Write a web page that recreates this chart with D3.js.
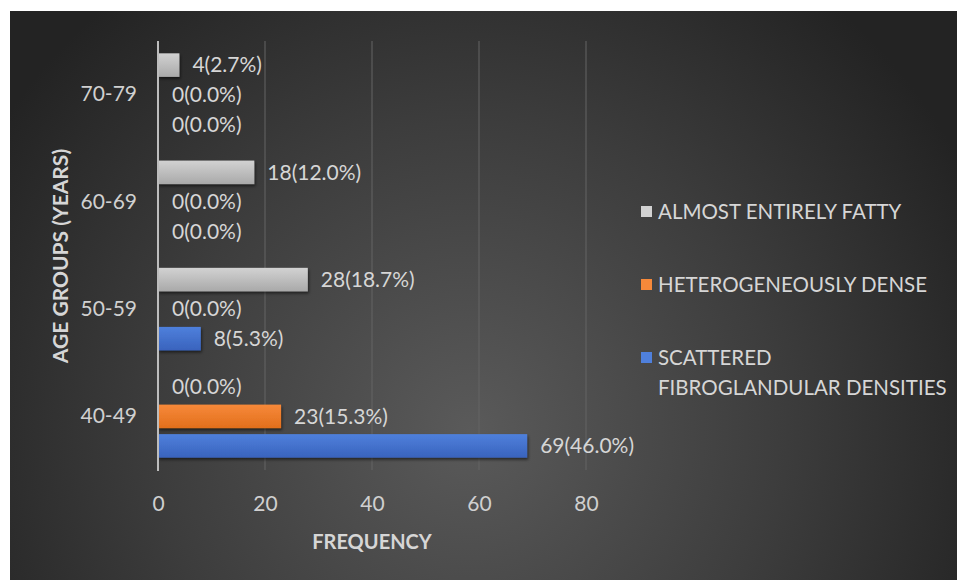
<!DOCTYPE html>
<html>
<head>
<meta charset="utf-8">
<script src="https://cdn.jsdelivr.net/npm/d3@7/dist/d3.min.js"></script>
<style>
  html, body { margin: 0; padding: 0; background: #ffffff; }
  svg { display: block; }
  text { font-family: Lato, "Open Sans", sans-serif; }
</style>
</head>
<body>
<svg id="chart" width="957" height="580"></svg>
<script>
// Age groups, listed top to bottom as drawn
const ageGroups = ["70-79", "60-69", "50-59", "40-49"];

// Breast density categories (order within each group, top to bottom)
const densityKeys = ["fatty", "hetero", "scattered"];

// Frequencies per age group (same order as ageGroups)
const fattyCounts     = [4, 18, 28, 0];
const heteroCounts    = [0, 0, 0, 23];
const scatteredCounts = [0, 0, 8, 69];

// Percentages shown alongside each count
const fattyPct     = [2.7, 12.0, 18.7, 0.0];
const heteroPct    = [0.0, 0.0, 0.0, 15.3];
const scatteredPct = [0.0, 0.0, 5.3, 46.0];

// Frequency axis ticks
const freqTicks = [0, 20, 40, 60, 80];

const seriesCounts = { fatty: fattyCounts, hetero: heteroCounts, scattered: scatteredCounts };
const seriesPct = { fatty: fattyPct, hetero: heteroPct, scattered: scatteredPct };

const svg = d3.select("#chart");
const W = 957, H = 580;

// Background panel with a soft radial glow
const defs = svg.append("defs");
const bg = defs.append("radialGradient").attr("id", "bgGrad")
  .attr("gradientUnits", "userSpaceOnUse")
  .attr("cx", 470).attr("cy", 430).attr("r", 560);
bg.append("stop").attr("offset", "0%").attr("stop-color", "#5a5a5a");
bg.append("stop").attr("offset", "55%").attr("stop-color", "#3d3d3d");
bg.append("stop").attr("offset", "100%").attr("stop-color", "#232323");

const fills = {
  fatty: ["#d2d2d2", "#a9a9a9"],
  hetero: ["#f7893a", "#e26f1c"],
  scattered: ["#4f80dc", "#3963bd"]
};
Object.entries(fills).forEach(([k, c]) => {
  const g = defs.append("linearGradient").attr("id", "fill-" + k)
    .attr("x1", 0).attr("y1", 0).attr("x2", 0).attr("y2", 1);
  g.append("stop").attr("offset", "0%").attr("stop-color", c[0]);
  g.append("stop").attr("offset", "100%").attr("stop-color", c[1]);
});
const shadow = defs.append("filter").attr("id", "barShadow")
  .attr("x", "-10%").attr("y", "-20%").attr("width", "130%").attr("height", "160%");
shadow.append("feDropShadow").attr("dx", 1).attr("dy", 2).attr("stdDeviation", 1.5)
  .attr("flood-color", "#000").attr("flood-opacity", 0.55);

svg.append("rect").attr("x", 10).attr("y", 11).attr("width", W - 10).attr("height", H - 11)
  .attr("fill", "url(#bgGrad)");

// Scales
const x = d3.scaleLinear().domain([0, 80]).range([158, 586]);
const y = d3.scaleBand().domain(ageGroups).range([41, 470])
  .paddingInner(0.23).paddingOuter(0.115);
const ySub = d3.scaleBand().domain(densityKeys).range([0, y.bandwidth()])
  .paddingInner(0.203);

// Vertical gridlines
svg.append("g").selectAll("line")
  .data(freqTicks.filter(t => t > 0))
  .join("line")
  .attr("x1", d => x(d)).attr("x2", d => x(d))
  .attr("y1", 41).attr("y2", 470)
  .attr("stroke", "#646464").attr("stroke-width", 1);

// Frequency axis tick labels
const xAxis = d3.axisBottom(x).tickValues(freqTicks).tickSize(0).tickPadding(0);
const xg = svg.append("g").attr("transform", "translate(0,504)").call(xAxis);
xg.select(".domain").remove();
xg.selectAll("text")
  .attr("dy", "0.35em")
  .attr("fill", "#d0d0d0")
  .style("font-size", "21px")
  .style("font-family", "Lato, 'Open Sans', sans-serif");

// Age group labels
const yAxis = d3.axisLeft(y).tickSize(0).tickPadding(0);
const yg = svg.append("g").attr("transform", "translate(137,0)").call(yAxis);
yg.select(".domain").remove();
yg.selectAll("text")
  .attr("fill", "#d0d0d0")
  .style("font-size", "21px")
  .style("font-family", "Lato, 'Open Sans', sans-serif");

// Bars
const rows = [];
ageGroups.forEach((g, i) => {
  densityKeys.forEach(k => {
    rows.push({ group: g, key: k, value: seriesCounts[k][i], pct: seriesPct[k][i] });
  });
});

svg.append("g").selectAll("rect")
  .data(rows.filter(d => d.value > 0))
  .join("rect")
  .attr("x", x(0))
  .attr("y", d => y(d.group) + ySub(d.key))
  .attr("width", d => x(d.value) - x(0))
  .attr("height", ySub.bandwidth())
  .attr("fill", d => "url(#fill-" + d.key + ")")
  .attr("filter", "url(#barShadow)");

// Zero axis line
svg.append("line")
  .attr("x1", x(0)).attr("x2", x(0)).attr("y1", 41).attr("y2", 471)
  .attr("stroke", "#bdbdbd").attr("stroke-width", 2);

// Value labels
svg.append("g").selectAll("text")
  .data(rows)
  .join("text")
  .attr("x", d => x(d.value) + (d.value > 0 ? 13 : 14))
  .attr("y", d => y(d.group) + ySub(d.key) + ySub.bandwidth() / 2)
  .attr("dy", "0.35em")
  .attr("fill", "#d6d6d6")
  .style("font-size", "21px")
  .text(d => `${d.value}(${d.pct.toFixed(1)}%)`);

// Axis titles
svg.append("text")
  .attr("x", 372).attr("y", 542).attr("dy", "0.35em")
  .attr("text-anchor", "middle")
  .attr("fill", "#d6d6d6")
  .style("font-size", "20px").style("font-weight", "bold")
  .text("FREQUENCY");

svg.append("text")
  .attr("transform", "translate(61,256) rotate(-90)")
  .attr("dy", "0.35em")
  .attr("text-anchor", "middle")
  .attr("fill", "#d6d6d6")
  .style("font-size", "21px").style("font-weight", "bold")
  .text("AGE GROUPS (YEARS)");

// Legend
const legendRows = [
  { key: "fatty", lines: ["ALMOST ENTIRELY FATTY"], y: 212 },
  { key: "hetero", lines: ["HETEROGENEOUSLY DENSE"], y: 285 },
  { key: "scattered", lines: ["SCATTERED", "FIBROGLANDULAR DENSITIES"], y: 358 }
];
const lg = svg.append("g").selectAll("g").data(legendRows).join("g");
lg.append("rect")
  .attr("x", 641).attr("y", d => d.y - 6)
  .attr("width", 11).attr("height", 11)
  .attr("fill", d => fills[d.key][0]);
lg.each(function(d) {
  const t = d3.select(this).append("text")
    .attr("fill", "#d6d6d6")
    .style("font-size", "20.5px");
  d.lines.forEach((ln, i) => {
    t.append("tspan").attr("x", 658).attr("y", d.y + i * 30).attr("dy", "0.35em").text(ln);
  });
});
</script>
</body>
</html>
